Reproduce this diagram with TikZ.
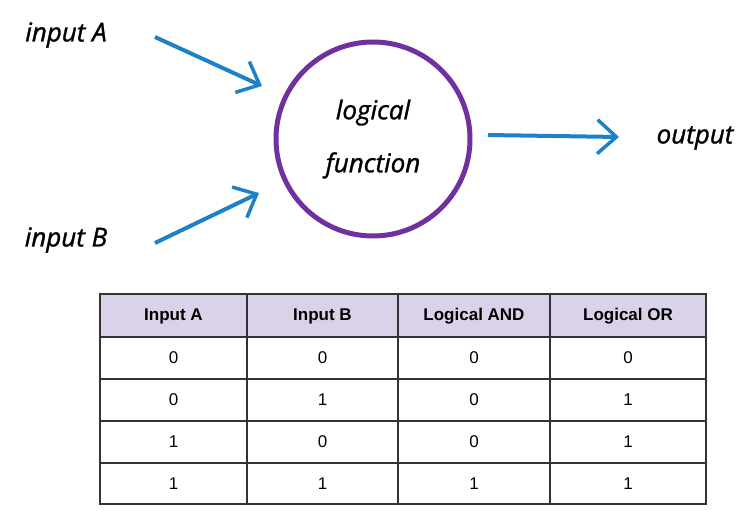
\documentclass[tikz,border=0pt]{standalone}
\usepackage{fontspec}
\setmainfont{Liberation Sans}
\newfontfamily\handfont[FakeBold=1.2]{Open Sans}
\usetikzlibrary{arrows.meta}

\definecolor{fnpurple}{RGB}{112,48,160}
\definecolor{flowblue}{RGB}{30,128,200}
\definecolor{headfill}{RGB}{217,210,233}

\tikzset{
  hand/.style={font=\handfont\itshape\fontsize{26}{53}\selectfont},
  flow/.style={draw=flowblue, line width=4pt,
    -{Straight Barb[length=19pt,width=34pt,line width=3.5pt]}},
  gridline/.style={draw=black!80, line width=1.3pt},
  cell/.style={font=\fontsize{17}{20}\selectfont},
  headcell/.style={font=\bfseries\fontsize{17}{20}\selectfont},
}

\begin{document}
\begin{tikzpicture}[x=1pt,y=-1pt]
    \useasboundingbox (0,0) rectangle (740,516);

    % inputs, function and output
    \node[hand] (inA) at (66,35) {input A};
    \node[hand] (inB) at (66,240) {input B};
    \node[hand] (out) at (695,138) {output};
    \node[hand, circle, draw=fnpurple, line width=5pt, minimum size=194pt,
          inner sep=0pt, align=center] (fn) at (373,139) {logical\\function};

    % arrows
    \coordinate (a0) at (155,37);
    \coordinate (a1) at (262,86);
    \coordinate (b0) at (155,243);
    \coordinate (b1) at (259,193);
    \coordinate (o0) at (488,135);
    \coordinate (o1) at (619,137);
    \draw[flow] (a0) -- (a1);
    \draw[flow] (b0) -- (b1);
    \draw[flow] (o0) -- (o1);

    % truth table
    \fill[headfill] (100,294) rectangle (706,337);
    \foreach \y in {337,379,421,463}
        \draw[gridline] (100,\y) -- (706,\y);
    \foreach \x in {247,398,550}
        \draw[gridline] (\x,294) -- (\x,504);
    \draw[gridline] (100,294) rectangle (706,504);

    \node[headcell] (hA) at (173.5,316) {Input A};
    \node[headcell] (hB) at (322.5,316) {Input B};
    \node[headcell] (hAnd) at (474,316) {Logical AND};
    \node[headcell] (hOr) at (628,316) {Logical OR};

    \foreach \a/\b/\n/\o [count=\r from 0] in {0/0/0/0,0/1/0/1,1/0/0/1,1/1/1/1} {
        \pgfmathsetmacro\ry{358+42*\r}
        \node[cell] (ra\r) at (173.5,\ry) {\a};
        \node[cell] (rb\r) at (322.5,\ry) {\b};
        \node[cell] (rn\r) at (474,\ry) {\n};
        \node[cell] (ro\r) at (628,\ry) {\o};
    }
\end{tikzpicture}
\end{document}
